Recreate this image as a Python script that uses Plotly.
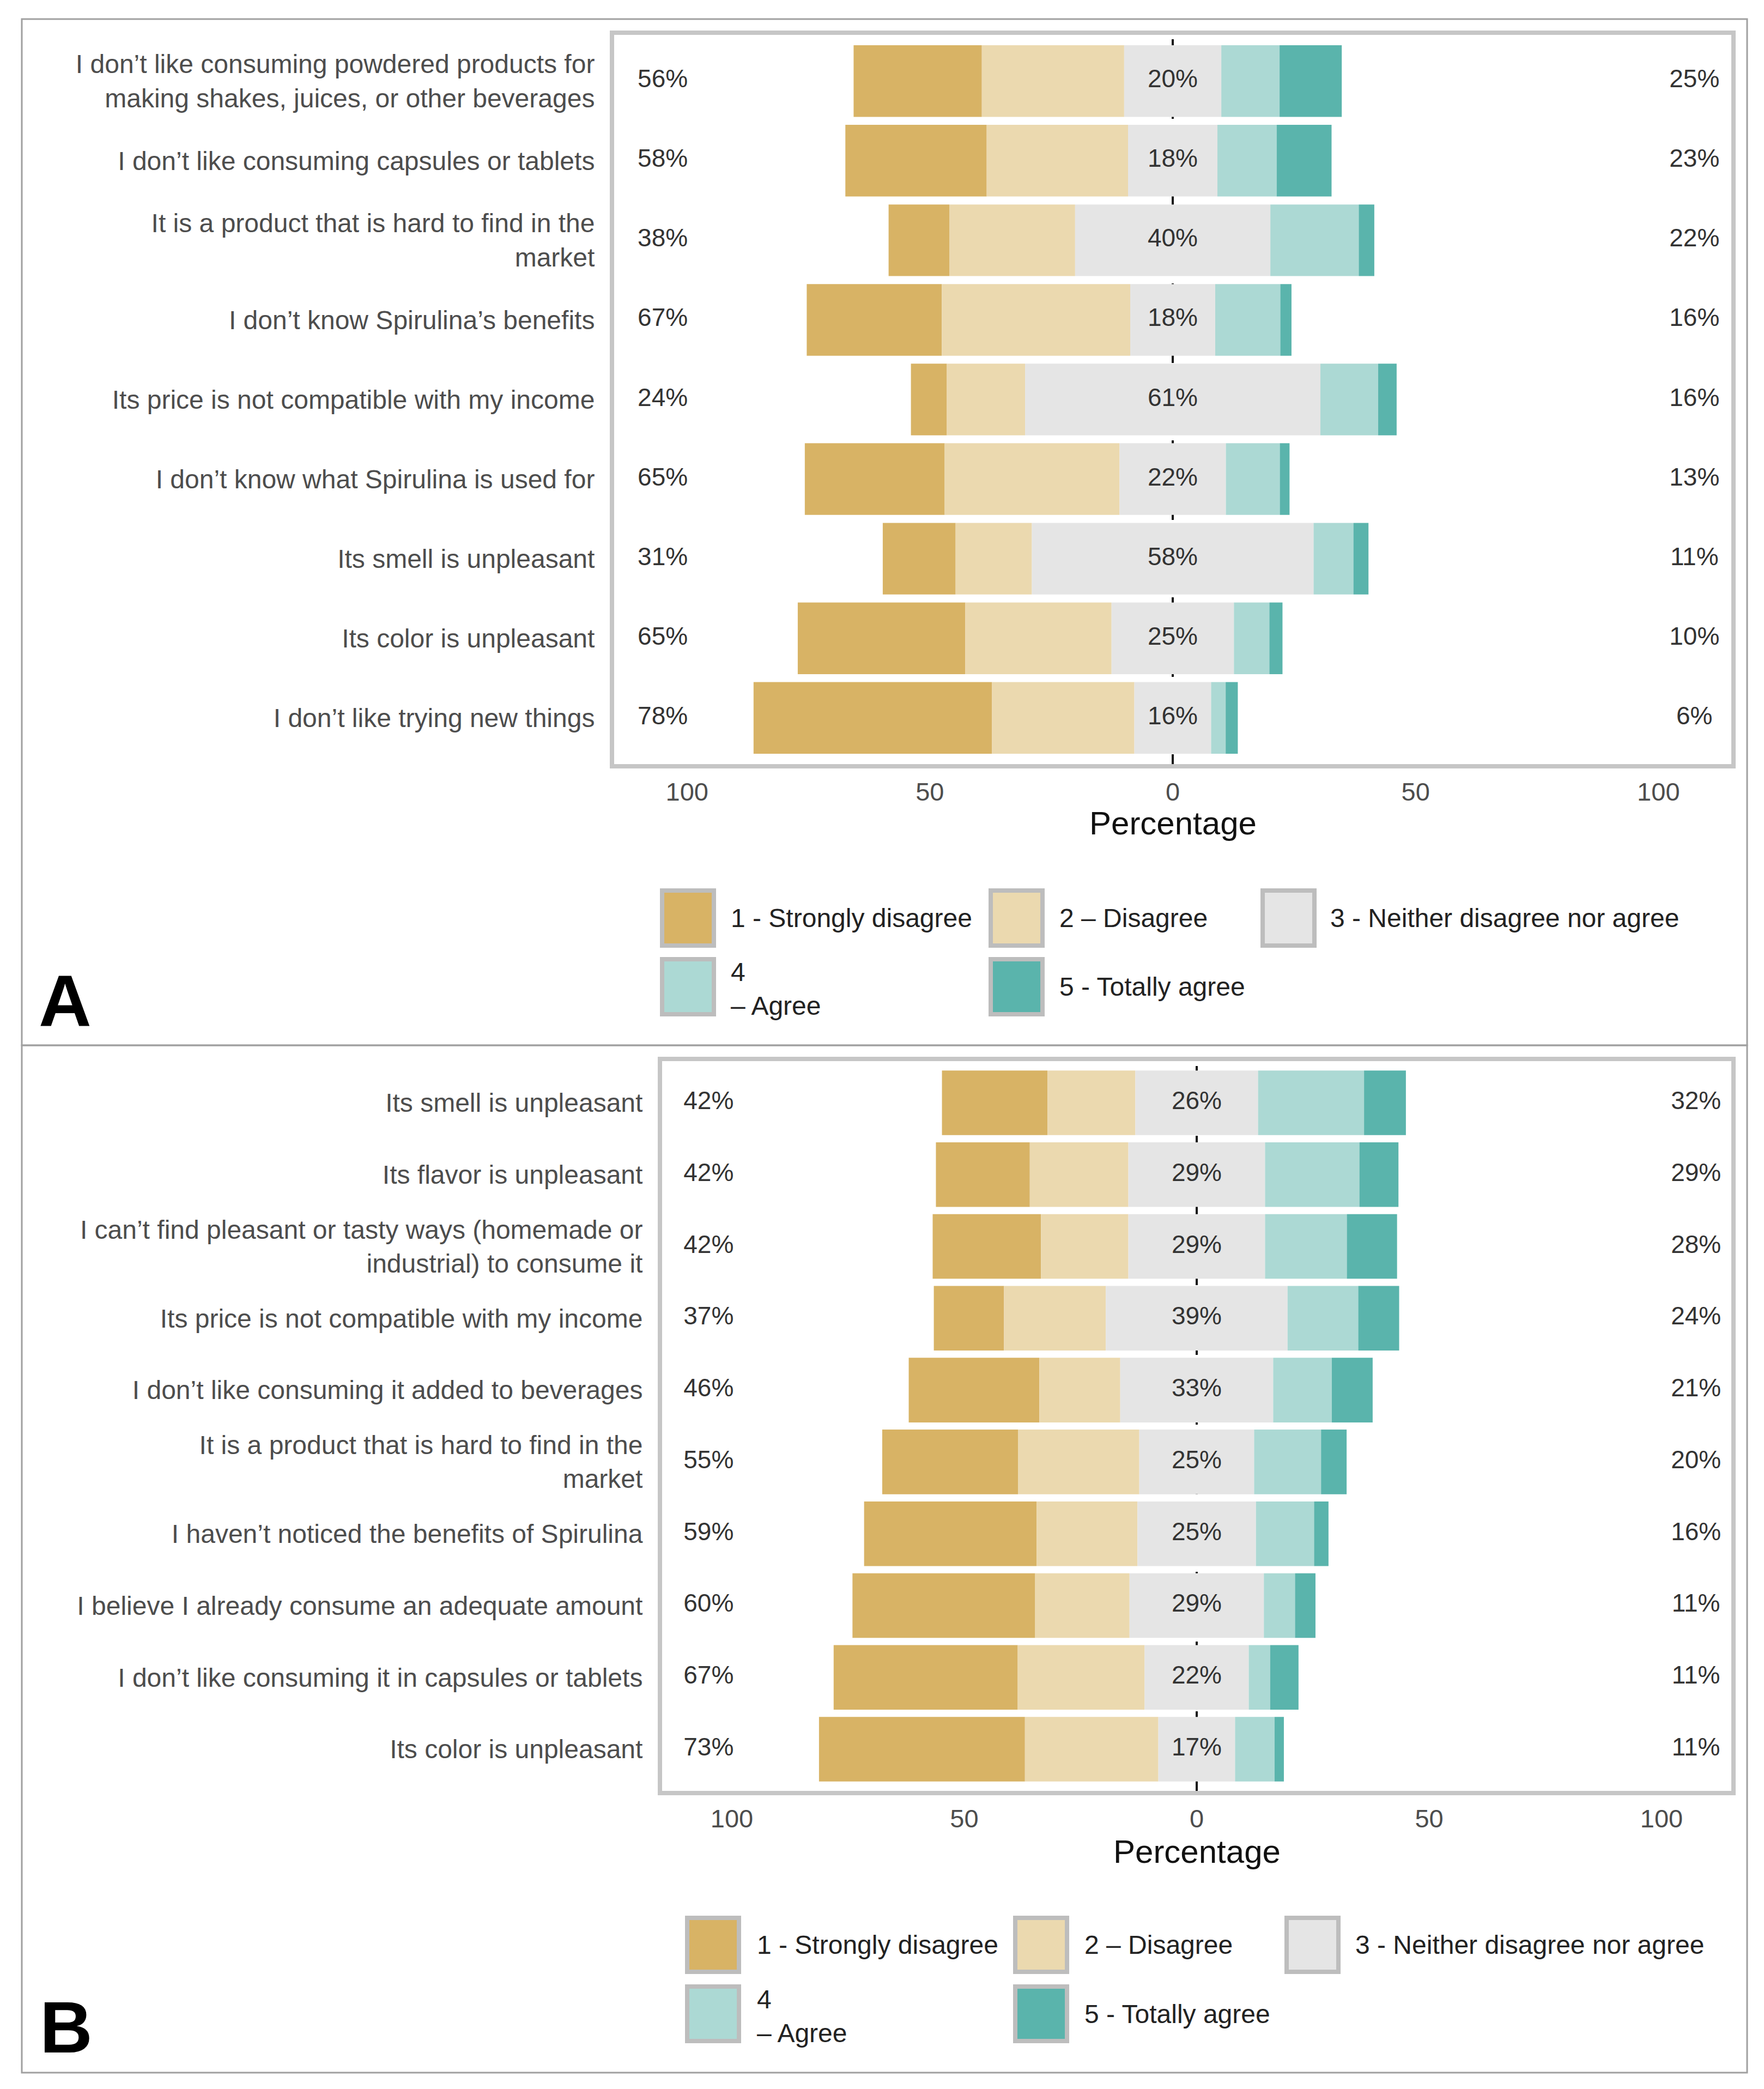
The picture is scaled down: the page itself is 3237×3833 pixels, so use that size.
import plotly.graph_objects as go

W, H = 3237, 3833

# ---------------- Panel A data ----------------
cats_a = [
    "I don’t like consuming powdered products for<br>making shakes, juices, or other beverages",
    "I don’t like consuming capsules or tablets",
    "It is a product that is hard to find in the<br>market",
    "I don’t know Spirulina’s benefits",
    "Its price is not compatible with my income",
    "I don’t know what Spirulina is used for",
    "Its smell is unpleasant",
    "Its color is unpleasant",
    "I don’t like trying new things",
]
sd_a = [26.4, 29.1, 12.5, 27.8, 7.4, 28.8, 15.0, 34.5, 49.1]
d_a = [29.3, 29.1, 25.9, 38.8, 16.1, 36.0, 15.7, 30.1, 29.3]
n_a = [20.0, 18.4, 40.2, 17.5, 60.8, 21.9, 58.0, 25.2, 15.8]
ag_a = [12.0, 12.2, 18.2, 13.4, 11.9, 11.1, 8.2, 7.3, 3.0]
ta_a = [12.8, 11.3, 3.2, 2.3, 3.8, 2.0, 3.1, 2.7, 2.5]
low_a = [56, 58, 38, 67, 24, 65, 31, 65, 78]
mid_a = [20, 18, 40, 18, 61, 22, 58, 25, 16]
high_a = [25, 23, 22, 16, 16, 13, 11, 10, 6]

# ---------------- Panel B data ----------------
cats_b = [
    "Its smell is unpleasant",
    "Its flavor is unpleasant",
    "I can’t find pleasant or tasty ways (homemade or<br>industrial) to consume it",
    "Its price is not compatible with my income",
    "I don’t like consuming it added to beverages",
    "It is a product that is hard to find in the<br>market",
    "I haven’t noticed the benefits of Spirulina",
    "I believe I already consume an adequate amount",
    "I don’t like consuming it in capsules or tablets",
    "Its color is unpleasant",
]
sd_b = [22.7, 20.2, 23.3, 15.1, 28.1, 29.2, 37.1, 39.3, 39.6, 44.3]
d_b = [18.9, 21.2, 18.8, 21.9, 17.4, 26.1, 21.7, 20.3, 27.3, 28.7]
n_b = [26.4, 29.4, 29.4, 39.1, 32.9, 24.7, 25.5, 28.9, 22.4, 16.5]
ag_b = [22.8, 20.3, 17.6, 15.2, 12.6, 14.4, 12.5, 6.7, 4.6, 8.5]
ta_b = [9.0, 8.4, 10.8, 8.8, 8.8, 5.5, 3.1, 4.4, 6.1, 2.0]
low_b = [42, 42, 42, 37, 46, 55, 59, 60, 67, 73]
mid_b = [26, 29, 29, 39, 33, 25, 25, 29, 22, 17]
high_b = [32, 29, 28, 24, 21, 20, 16, 11, 11, 11]

levels = ["1 - Strongly disagree", "2 – Disagree", "3 - Neither disagree nor agree",
          "4<br>– Agree", "5 - Totally agree"]
colors = ["#D8B365", "#EBD9AF", "#E5E5E5", "#ACD9D4", "#5AB4AC"]

x_tickvals = [-100, -50, 0, 50, 100]
x_ticktext = ["100", "50", "0", "50", "100"]

FONT = "Liberation Sans, Arial, sans-serif"
AXIS_GREY = "#4d4d4d"
TXT = "#333333"


def px(x):
    return x / W


def py(y):
    return 1 - y / H


fig = go.Figure()


def add_panel(xs, ys, cats, sd, d, n, ag, ta, low, mid, high):
    idx = list(range(len(cats)))
    b_sd = [-(a + b + c / 2) for a, b, c in zip(sd, d, n)]
    b_d = [-(b + c / 2) for b, c in zip(d, n)]
    b_n = [-c / 2 for c in n]
    b_a = [c / 2 for c in n]
    b_t = [c / 2 + e for c, e in zip(n, ag)]
    segs = [(sd, b_sd), (d, b_d), (n, b_n), (ag, b_a), (ta, b_t)]
    for (vals, base), col, name in zip(segs, colors, levels):
        fig.add_trace(go.Bar(
            y=idx, x=vals, base=base, orientation="h", width=0.9,
            marker=dict(color=col, line=dict(width=0)), name=name,
            xaxis=xs, yaxis=ys, showlegend=False, hoverinfo="skip"))
    tf = dict(family=FONT, size=46, color=TXT)
    for xpos, vals in [(-105, low), (0, mid), (107.4, high)]:
        fig.add_trace(go.Scatter(x=[xpos] * len(idx), y=idx, mode="text",
                                 text=[f"{v}%" for v in vals], textfont=tf,
                                 xaxis=xs, yaxis=ys, showlegend=False,
                                 cliponaxis=False, hoverinfo="skip"))


add_panel("x", "y", cats_a, sd_a, d_a, n_a, ag_a, ta_a, low_a, mid_a, high_a)
add_panel("x2", "y2", cats_b, sd_b, d_b, n_b, ag_b, ta_b, low_b, mid_b, high_b)

common_x = dict(range=[-115, 115], tickvals=x_tickvals, ticktext=x_ticktext,
                showgrid=False, zeroline=False, showline=True, mirror=True,
                linecolor="#c6c6c6", linewidth=8, ticks="",
                tickfont=dict(family=FONT, size=47, color=AXIS_GREY),
                ticklabelstandoff=3, automargin=False, fixedrange=True)
common_y = dict(showgrid=False, zeroline=False, showline=True, mirror=True,
                linecolor="#c6c6c6", linewidth=8, ticks="",
                tickfont=dict(family=FONT, size=48, color=AXIS_GREY),
                ticklabelstandoff=18, automargin=False, fixedrange=True)

fig.update_layout(
    width=W, height=H,
    margin=dict(l=0, r=0, t=0, b=0),
    paper_bgcolor="white", plot_bgcolor="white",
    barmode="overlay", template="none", showlegend=False,
    font=dict(family=FONT, color=TXT),
    xaxis=dict(common_x, domain=[px(1119), px(3169)], anchor="y"),
    yaxis=dict(common_y, domain=[py(1394), py(56)], anchor="x",
               range=[len(cats_a) - 1 + 0.58, -0.58],
               tickvals=list(range(len(cats_a))), ticktext=cats_a),
    xaxis2=dict(common_x, domain=[px(1207), px(3169)], anchor="y2"),
    yaxis2=dict(common_y, domain=[py(3278), py(1939)], anchor="x2",
                range=[len(cats_b) - 1 + 0.58, -0.58],
                tickvals=list(range(len(cats_b))), ticktext=cats_b),
)

shapes = []
annotations = []

# dashed zero lines (under bars)
for xr, yr in [("x", "y domain"), ("x2", "y2 domain")]:
    shapes.append(dict(type="line", xref=xr, yref=yr, x0=0, x1=0, y0=0, y1=1,
                       layer="below", line=dict(color="#111111", width=4, dash="18px,14px")))

# outer panel frames
for y0, y1 in [(27, 1910), (1910, 3795)]:
    shapes.append(dict(type="rect", xref="paper", yref="paper",
                       x0=px(32), x1=px(3198), y0=py(y1), y1=py(y0),
                       line=dict(color="#a0a0a0", width=3), fillcolor="rgba(0,0,0,0)", layer="below"))

# axis titles
for xr, ytitle in [("x", 1502), ("x2", 3389)]:
    annotations.append(dict(text="Percentage", xref=xr, yref="paper", x=0, y=py(ytitle),
                            xanchor="center", yanchor="middle", showarrow=False,
                            font=dict(family=FONT, size=60, color="#111111")))

# legends (drawn as keys + labels)
legend_specs = [
    ([(1203, 1306), (1806, 1909), (2305, 2408)], [1331, 1934, 2431], [(1622, 1731), (1748, 1857)]),
    ([(1249, 1352), (1851, 1954), (2349, 2452)], [1379, 1980, 2477], [(3507, 3614), (3633, 3741)]),
]
slots = [(0, 0), (0, 1), (0, 2), (1, 0), (1, 1)]
for cols, tx, rows in legend_specs:
    for (r, c), lab, col in zip(slots, levels, colors):
        (x0, x1), (y0, y1) = cols[c], rows[r]
        shapes.append(dict(type="rect", xref="paper", yref="paper",
                           x0=px(x0 + 4), x1=px(x1 - 4), y0=py(y1 - 4), y1=py(y0 + 4),
                           line=dict(color="#bdbdbd", width=8), fillcolor=col))
        annotations.append(dict(text=lab, xref="paper", yref="paper", x=px(tx[c]),
                                y=py((y0 + y1) / 2 + (4 if r == 1 and c == 0 else 0)),
                                xanchor="left", yanchor="middle", align="left", showarrow=False,
                                font=dict(family=FONT, size=48, color="#222222")))

# panel letters
for lab, cx, cy in [("A", 111, 1828), ("B", 113, 3711)]:
    annotations.append(dict(text=f"<b>{lab}</b>", xref="paper", yref="paper", x=px(cx), y=py(cy),
                            xanchor="center", yanchor="middle", showarrow=False,
                            font=dict(family=FONT, size=134, color="#000000")))

fig.update_layout(shapes=shapes, annotations=annotations)

fig.write_html("out.html")
